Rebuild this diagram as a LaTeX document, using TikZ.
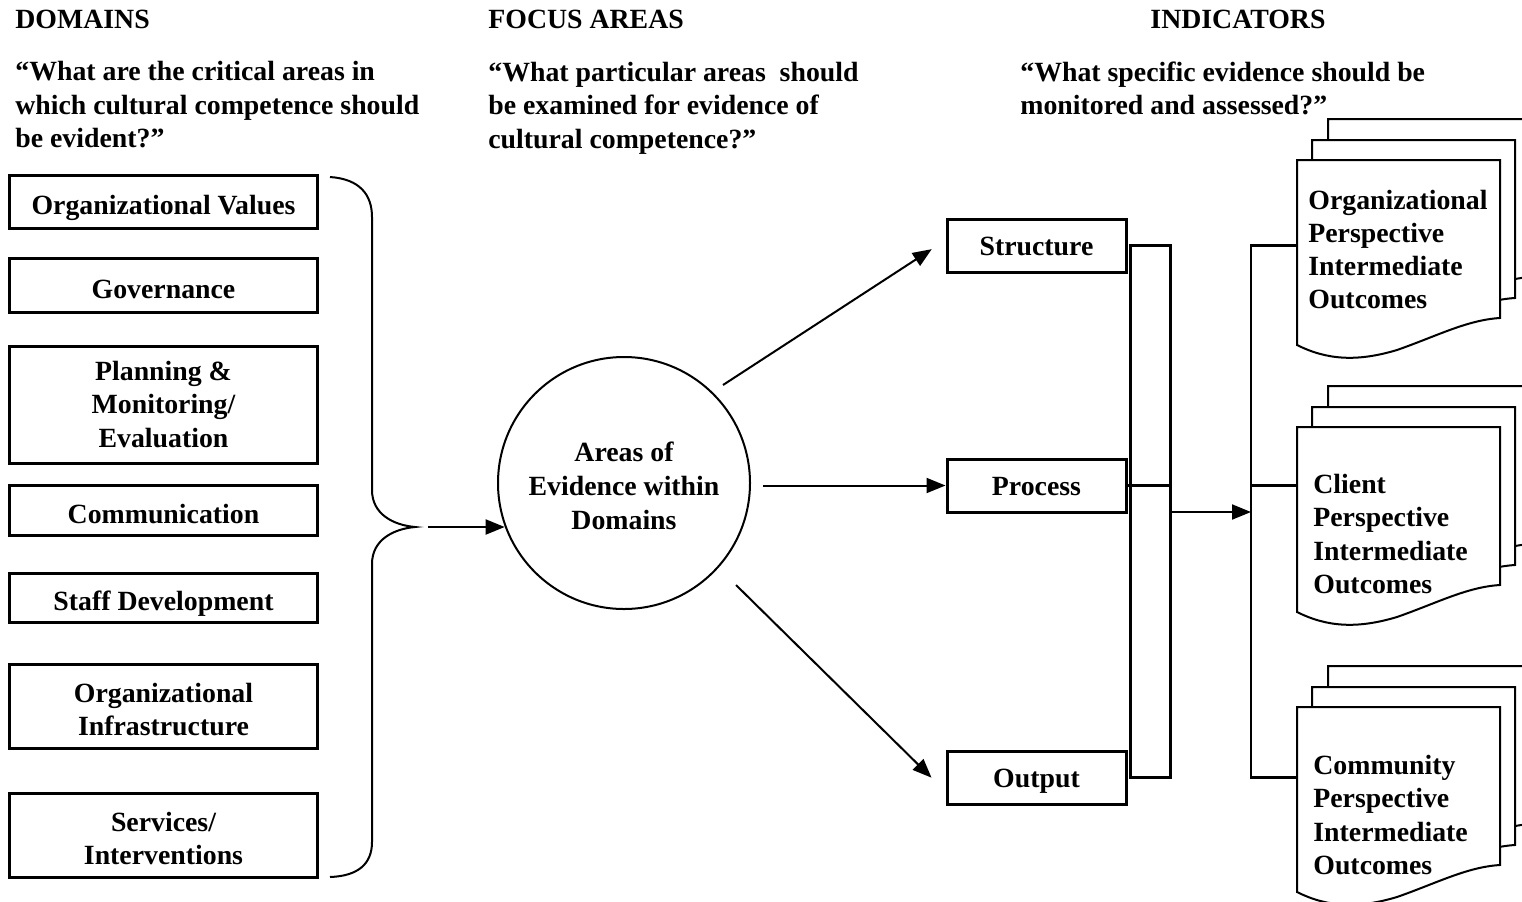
\documentclass[tikz,border=0pt]{standalone}
\usepackage{fontspec}
\setmainfont{Liberation Serif}
\usetikzlibrary{arrows.meta,calc}

% one stack of three sheets; #1,#2 = top-left corner of the front sheet, #3 = name
\newcommand\sheetstack[3]{%
  \foreach \dx/\dy in {31/-41,15/-20,0/0}{%
    \begin{scope}[shift={(#1+\dx,#2+\dy)}]
      \filldraw[sheet] (0,0) -- (203,0) -- (203,158)
        .. controls (170,160) and (140,176) .. (100,190)
        .. controls (60,202) and (30,200) .. (0,185) -- cycle;
    \end{scope}}%
  \node[inner sep=0pt,minimum width=101.5pt,minimum height=92.5pt,anchor=north west] (#3) at (#1,#2) {};
}
% strut that sets the text of a box a little lower
\newcommand\lowline{\rule{0pt}{13pt}}

\begin{document}
\begin{tikzpicture}[x=0.5pt,y=-0.5pt,
  every node/.style={font=\bfseries\fontsize{13.9pt}{16.6pt}\selectfont},
  domainbox/.style={draw,line width=1.5pt,minimum width=154pt,inner sep=0pt,align=center},
  oneline/.style={text height=13pt,text depth=0pt},
  focusbox/.style={draw,line width=1.5pt,minimum width=89.5pt,minimum height=26.5pt,inner sep=0pt,
    text height=9.6pt,text depth=0pt},
  sheet/.style={draw,line width=1pt,fill=white},
  conn/.style={line width=1.4pt},
  arr/.style={line width=1pt,-{Triangle[length=9.5pt,width=7.5pt]}},
  heading/.style={inner sep=0pt,align=left},
  question/.style={inner sep=0pt,align=left,font=\bfseries\fontsize{13.9pt}{16.75pt}\selectfont},
  doctext/.style={inner sep=0pt,align=left,anchor=west}]
\useasboundingbox (0,0) rectangle (1522,901);

% column headings and questions
\node[heading,anchor=west] (hdom) at (15,19) {DOMAINS};
\node[heading,anchor=west] (hfoc) at (488,19) {FOCUS AREAS};
\node[heading] (hind) at (1238,19) {INDICATORS};
\node[question,anchor=west] (qdom) at (15,105) {“What are the critical areas in\\which cultural competence should\\be evident?”};
\node[question,anchor=west] (qfoc) at (488,108) {“What particular areas\ \ should\\be examined for evidence of\\cultural competence?”};
\node[question,anchor=west] (qind) at (1020,88.5) {“What specific evidence should be\\monitored and assessed?”};

% domains
\node[domainbox,oneline,minimum height=26.5pt] (d1) at (163.5,201.5) {Organizational Values};
\node[domainbox,oneline,minimum height=27pt] (d2) at (163.5,285) {Governance};
\node[domainbox,minimum height=58.5pt] (d3) at (163.5,404.5) {Planning \&\\Monitoring/\\Evaluation};
\node[domainbox,oneline,minimum height=25pt] (d4) at (163.5,510) {Communication};
\node[domainbox,oneline,minimum height=24.5pt] (d5) at (163.5,597.5) {Staff Development};
\node[domainbox,minimum height=42pt] (d6) at (163.5,706) {\lowline Organizational\\Infrastructure};
\node[domainbox,minimum height=42pt] (d7) at (163.5,835) {\lowline Services/\\Interventions};

% brace gathering the domains
\coordinate (bracetip) at (415,527);
\draw[line width=1pt] (330,177) .. controls (360,179) and (372,195) .. (372,217)
  -- (372,490) .. controls (372,514) and (393,525) .. (bracetip)
  .. controls (393,529) and (372,540) .. (372,564)
  -- (372,842) .. controls (372,864) and (358,876) .. (330,877);

% focus areas
\node[draw,circle,line width=1pt,minimum size=126pt,inner sep=0pt,align=center,
  font=\bfseries\fontsize{13.9pt}{17.2pt}\selectfont] (circ) at (624,483)
  {\rule{0pt}{12.6pt}Areas of\\Evidence within\\Domains};
\coordinate (inarrow) at (428,527);
\draw[arr] (inarrow) -- (inarrow -| circ.200);

\node[focusbox] (struct) at (1036.5,245.5) {Structure};
\node[focusbox] (proc) at (1036.5,485.5) {Process};
\node[focusbox] (out) at (1036.5,777.5) {Output};

\coordinate (c1) at (723,385);
\coordinate (c2) at (763,485.5);
\coordinate (c3) at (736,585);
\draw[arr,shorten >=7pt] (c1) -- ($(struct.west)+(-2,-4)$);
\draw[arr] (c2) -- (proc.west);
\draw[arr,shorten >=7pt] (c3) -- ($(out.west)+(-4,10)$);

% joining the three focus areas
\draw[conn] ([xshift=1.5pt]struct.east) rectangle ([xshift=21.5pt]out.east);
\draw[conn] (proc.east) -- ++(43,0);
\coordinate (mergeR) at (1169,512);
\coordinate (splitL) at (1251,512);
\draw[arr] (mergeR) -- (splitL);

% indicators
\sheetstack{1297}{160}{doc1}
\sheetstack{1297}{427}{doc2}
\sheetstack{1297}{707}{doc3}
\node[doctext] (t1) at (1308,249.5) {Organizational\\Perspective\\Intermediate\\Outcomes};
\node[doctext] (t2) at (1313,534) {Client\\Perspective\\Intermediate\\Outcomes};
\node[doctext] (t3) at (1313,815) {Community\\Perspective\\Intermediate\\Outcomes};

\coordinate (bt) at (1251,245.5);
\coordinate (bm) at (1251,485.5);
\coordinate (bb) at (1251,777.5);
\draw[conn] (doc1.west |- bt) -- (bt) -- (bb) -- (doc3.west |- bb);
\draw[conn] (bm) -- (doc2.west |- bm);
\end{tikzpicture}
\end{document}
